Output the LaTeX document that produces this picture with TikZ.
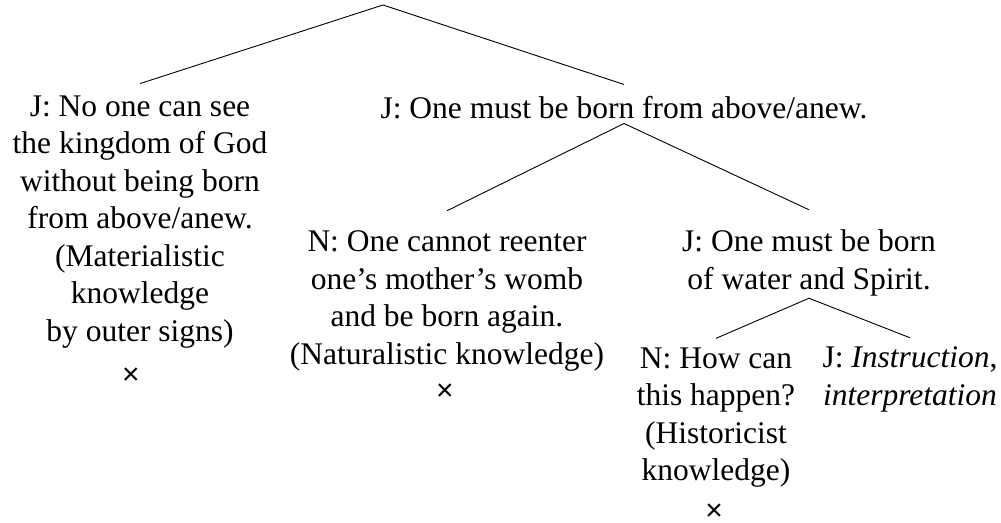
\documentclass[tikz,border=0pt]{standalone}
\usepackage{fontspec}
\setmainfont{Liberation Serif}
\newfontfamily\crossfont{Liberation Sans}
\usetikzlibrary{positioning}

\begin{document}
\begin{tikzpicture}[
  x=1pt, y=-1pt,
  txt/.style={align=center, inner sep=0pt, font=\fontsize{31.5}{37.5}\selectfont},
  cross/.style={inner sep=0pt, text height=9pt, text depth=0pt, font=\crossfont\fontsize{30}{30}\selectfont},
  br/.style={line width=0.9pt}
]
\useasboundingbox (0,0) rectangle (1001,522);

% Top of the tree
\coordinate (top) at (383,5);

% First level
\node[txt] (see) at (140,222)
{J: No one can see\\the kingdom of God\\without being born\\from above/anew.\\(Materialistic\\knowledge\\by outer signs)};
\node[txt] (above) at (624,108) {J: One must be born from above/anew.};

% Second level
\node[txt] (womb) at (447,301)
{N: One cannot reenter\\one’s mother’s womb\\and be born again.\\(Naturalistic knowledge)};
\node[txt] (water) at (809,263) {J: One must be born\\of water and Spirit.};

% Third level
\node[txt] (how) at (716,417.5)
{N: How can\\this happen?\\(Historicist\\knowledge)};
\node[txt] (instr) at (910,379.5) {J: \textit{Instruction},\\\textit{interpretation}};

% Dead ends
\node[cross] (see-x) at (131,379.5) {×};
\node[cross] (womb-x) at (445,395.5) {×};
\node[cross] (how-x) at (714,515.5) {×};

% Branches
\draw[br] ([yshift=12pt]see.north) -- (top) -- ([yshift=12pt]above.north);
\draw[br] ([yshift=20pt]womb.north) -- ([yshift=-4pt]above.south) -- ([yshift=20pt]water.north);
\draw[br] ([yshift=9pt]how.north) -- ([yshift=-2pt]water.south) -- ([yshift=9pt]instr.north);

\end{tikzpicture}
\end{document}
